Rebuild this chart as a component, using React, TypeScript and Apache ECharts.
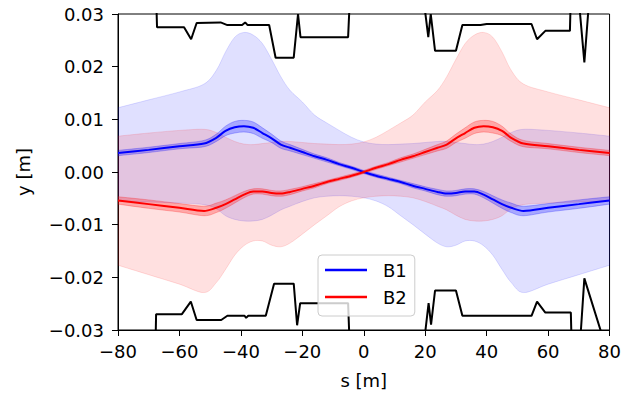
import React, { useEffect, useRef } from "react";
import * as echarts from "echarts";

// s positions (m) shared by beam lines and envelopes
const S = [-80, -70, -60, -52, -48, -45, -42, -39, -36, -33, -30, -27, -24, -20, -16, -12, -8, -4, 0, 4, 8, 12, 16, 20, 24, 27, 30, 33, 36, 39, 42, 45, 48, 52, 60, 70, 80];

// Beam 1
const B1_MEAN = [0.0036, 0.0042, 0.0049, 0.0054, 0.0065, 0.0078, 0.0085, 0.0087, 0.0084, 0.0074, 0.0064, 0.0052, 0.0046, 0.0038, 0.0030, 0.0023, 0.0015, 0.0008, 0.0000, -0.0007, -0.0013, -0.0019, -0.0026, -0.0032, -0.0038, -0.0041, -0.0040, -0.0037, -0.0037, -0.0043, -0.0052, -0.0061, -0.0068, -0.0074, -0.0068, -0.0061, -0.0054];
const B1_SPREAD = [0.0005, 0.0005, 0.0005, 0.0006, 0.0007, 0.0009, 0.0011, 0.0011, 0.0011, 0.0010, 0.0008, 0.0007, 0.0006, 0.0005, 0.0004, 0.0004, 0.0003, 0.0003, 0.0003, 0.0003, 0.0003, 0.0003, 0.0004, 0.0004, 0.0005, 0.0005, 0.0005, 0.0005, 0.0005, 0.0006, 0.0007, 0.0008, 0.0009, 0.0009, 0.0008, 0.0008, 0.0007];
const B1_ENV_HI = [0.0122, 0.0137, 0.0152, 0.0167, 0.0193, 0.0228, 0.0256, 0.0265, 0.0260, 0.0244, 0.0214, 0.0181, 0.0155, 0.0133, 0.0108, 0.0093, 0.0079, 0.0066, 0.0057, 0.0053, 0.0052, 0.0053, 0.0054, 0.0056, 0.0058, 0.0058, 0.0056, 0.0054, 0.0052, 0.0053, 0.0058, 0.0066, 0.0075, 0.0081, 0.0079, 0.0074, 0.0068];
const B1_ENV_LO = [-0.0055, -0.0057, -0.0059, -0.0062, -0.0070, -0.0083, -0.0090, -0.0093, -0.0093, -0.0090, -0.0082, -0.0072, -0.0065, -0.0056, -0.0049, -0.0046, -0.0045, -0.0046, -0.0049, -0.0055, -0.0066, -0.0083, -0.0100, -0.0118, -0.0135, -0.0142, -0.0139, -0.0131, -0.0131, -0.0140, -0.0158, -0.0185, -0.0210, -0.0229, -0.0213, -0.0195, -0.0177];

// Beam 2
const B2_MEAN = [-0.0054, -0.0061, -0.0068, -0.0074, -0.0068, -0.0061, -0.0052, -0.0043, -0.0037, -0.0037, -0.0040, -0.0041, -0.0038, -0.0032, -0.0026, -0.0019, -0.0013, -0.0007, 0.0000, 0.0008, 0.0015, 0.0023, 0.0030, 0.0038, 0.0046, 0.0052, 0.0064, 0.0074, 0.0084, 0.0087, 0.0085, 0.0078, 0.0065, 0.0054, 0.0049, 0.0042, 0.0036];
const B2_SPREAD = [0.0007, 0.0008, 0.0008, 0.0009, 0.0009, 0.0008, 0.0007, 0.0006, 0.0005, 0.0005, 0.0005, 0.0005, 0.0005, 0.0004, 0.0004, 0.0003, 0.0003, 0.0003, 0.0003, 0.0003, 0.0003, 0.0004, 0.0004, 0.0005, 0.0006, 0.0007, 0.0008, 0.0010, 0.0011, 0.0011, 0.0011, 0.0009, 0.0007, 0.0006, 0.0005, 0.0005, 0.0005];
const B2_ENV_HI = [0.0068, 0.0074, 0.0079, 0.0081, 0.0075, 0.0066, 0.0058, 0.0053, 0.0052, 0.0054, 0.0056, 0.0058, 0.0058, 0.0056, 0.0054, 0.0053, 0.0052, 0.0053, 0.0057, 0.0066, 0.0079, 0.0093, 0.0108, 0.0133, 0.0155, 0.0181, 0.0214, 0.0244, 0.0260, 0.0265, 0.0256, 0.0228, 0.0193, 0.0167, 0.0152, 0.0137, 0.0122];
const B2_ENV_LO = [-0.0177, -0.0195, -0.0213, -0.0229, -0.0210, -0.0185, -0.0158, -0.0140, -0.0131, -0.0131, -0.0139, -0.0142, -0.0135, -0.0118, -0.0100, -0.0083, -0.0066, -0.0055, -0.0049, -0.0046, -0.0045, -0.0046, -0.0049, -0.0056, -0.0065, -0.0072, -0.0082, -0.0090, -0.0093, -0.0093, -0.0090, -0.0083, -0.0070, -0.0062, -0.0059, -0.0057, -0.0055];

// Aperture (black)
const TOP_S = [-67.7, -67.3, -58.5, -56.2, -54.4, -46.6, -44.4, -39.6, -38.6, -37.8, -30.8, -28.7, -22.8, -21.4, -20.6, -5.1, -4.3, 18.8, 21.0, 21.8, 23.2, 30.0, 32.1, 38.0, 40.0, 54.6, 56.4, 59.1, 67.1, 67.5, 69.5, 71.8, 73.8];
const TOP_Y = [0.036, 0.0275, 0.0275, 0.0252, 0.0283, 0.0284, 0.0279, 0.0279, 0.0284, 0.0279, 0.0279, 0.0217, 0.0217, 0.0300, 0.0256, 0.0256, 0.036, 0.036, 0.0256, 0.0300, 0.0230, 0.0230, 0.0279, 0.0279, 0.0281, 0.0281, 0.0252, 0.0268, 0.0268, 0.036, 0.036, 0.0208, 0.036];
const BOT_S = [-67.9, -67.6, -59.2, -56.3, -54.4, -46.4, -44.4, -38.8, -38.3, -37.6, -31.9, -29.2, -22.8, -21.7, -20.7, -5.1, -4.4, 18.9, 21.1, 21.9, 23.2, 30.0, 32.1, 54.6, 56.4, 59.1, 67.4, 67.8, 70.0, 71.8, 80.0];
const BOT_Y = [-0.036, -0.0270, -0.0270, -0.0246, -0.0281, -0.0281, -0.0273, -0.0273, -0.0277, -0.0273, -0.0273, -0.0212, -0.0212, -0.0291, -0.0249, -0.0249, -0.036, -0.036, -0.0249, -0.0290, -0.0225, -0.0225, -0.0273, -0.0273, -0.0246, -0.0267, -0.0267, -0.036, -0.036, -0.0202, -0.0355];

const X_MIN = -80, X_MAX = 80, X_STEP = 20;
const Y_MIN = -0.03, Y_MAX = 0.03, Y_STEP = 0.01;

const FONT = "DejaVu Sans";
const FS = 18;

// smooth filled band shape (Catmull-Rom through the given points)
const Band = echarts.graphic.extendShape({
  type: "band",
  shape: { up: [] as number[][], down: [] as number[][] },
  buildPath(ctx: any, shape: any) {
    const drawCurve = (pts: number[][], move: boolean) => {
      if (!pts.length) return;
      if (move) ctx.moveTo(pts[0][0], pts[0][1]);
      else ctx.lineTo(pts[0][0], pts[0][1]);
      const t = 1 / 6;
      for (let i = 0; i < pts.length - 1; i++) {
        const p0 = pts[i - 1] || pts[i];
        const p1 = pts[i];
        const p2 = pts[i + 1];
        const p3 = pts[i + 2] || pts[i + 1];
        ctx.bezierCurveTo(
          p1[0] + (p2[0] - p0[0]) * t, p1[1] + (p2[1] - p0[1]) * t,
          p2[0] - (p3[0] - p1[0]) * t, p2[1] - (p3[1] - p1[1]) * t,
          p2[0], p2[1]
        );
      }
    };
    drawCurve(shape.up, true);
    drawCurve(shape.down.slice().reverse(), false);
    ctx.closePath();
  },
});
echarts.graphic.registerShape("band", Band);

const pairs = (xs: number[], ys: number[]) => xs.map((x, i) => [x, ys[i]]);

function bandSeries(name: string, lo: number[], hi: number[], fill: string, z: number) {
  return {
    type: "custom",
    name,
    coordinateSystem: "cartesian2d",
    data: [[0, 0]],
    silent: true,
    clip: true,
    z,
    renderItem: (_params: any, api: any) => {
      const up = S.map((s, i) => api.coord([s, hi[i]]));
      const down = S.map((s, i) => api.coord([s, lo[i]]));
      return {
        type: "band",
        shape: { up, down },
        style: { fill, stroke: fill, lineWidth: 1 },
      };
    },
  };
}

const yFmt = (v: number) => {
  const r = Math.round(v * 100);
  if (r === 0) return "0.00";
  return (r < 0 ? "\u2212" : "") + Math.abs(v).toFixed(2);
};
const xFmt = (v: number) => (v < 0 ? "\u2212" + Math.abs(v) : String(v));

export default function App() {
  const ref = useRef<HTMLDivElement>(null);
  useEffect(() => {
    if (!ref.current) return;
    const chart = echarts.init(ref.current, null, { renderer: "svg" });
    const lineOf = (arr: number[], d: number[], sign: number) => arr.map((v, i) => v + sign * d[i]);
    chart.setOption({
      animation: false,
      backgroundColor: "#ffffff",
      textStyle: { fontFamily: FONT },
      grid: {
        left: 118, right: 8, top: 14, bottom: 62,
        show: true, borderColor: "#000", borderWidth: 1, backgroundColor: "transparent",
      },
      xAxis: {
        type: "value", min: X_MIN, max: X_MAX, interval: X_STEP,
        name: "s [m]", nameLocation: "middle", nameGap: 50,
        nameTextStyle: { fontFamily: FONT, fontSize: FS, color: "#000", verticalAlign: "middle" },
        axisLine: { show: true, onZero: false, lineStyle: { color: "#000", width: 1 } },
        axisTick: { show: true, length: 6, lineStyle: { color: "#000", width: 1 } },
        axisLabel: { formatter: xFmt, fontFamily: FONT, fontSize: FS, color: "#000", margin: 12 },
        splitLine: { show: false },
      },
      yAxis: {
        type: "value", min: Y_MIN, max: Y_MAX, interval: Y_STEP,
        name: "y [m]", nameLocation: "middle", nameGap: 95,
        nameTextStyle: { fontFamily: FONT, fontSize: FS, color: "#000", verticalAlign: "middle" },
        axisLine: { show: true, onZero: false, lineStyle: { color: "#000", width: 1 } },
        axisTick: { show: true, length: 6, lineStyle: { color: "#000", width: 1 } },
        axisLabel: { formatter: yFmt, fontFamily: FONT, fontSize: FS, color: "#000", margin: 14 },
        splitLine: { show: false },
      },
      legend: {
        data: [
          { name: "B1", icon: "rect" },
          { name: "B2", icon: "rect" },
        ],
        orient: "vertical",
        left: 318, top: 255,
        itemWidth: 42, itemHeight: 2.5, itemGap: 9,
        padding: [6, 8, 10, 7],
        backgroundColor: "rgba(255,255,255,0.8)",
        borderColor: "#cccccc", borderWidth: 1, borderRadius: 4,
        textStyle: { fontFamily: FONT, fontSize: FS, color: "#000", padding: [0, 0, 0, 11] },
        z: 20,
      },
      series: [
        bandSeries("B1 envelope", B1_ENV_LO, B1_ENV_HI, "rgba(0,0,255,0.12)", 1),
        bandSeries("B2 envelope", B2_ENV_LO, B2_ENV_HI, "rgba(255,0,0,0.12)", 1),
        bandSeries("B1 spread", lineOf(B1_MEAN, B1_SPREAD, -1), lineOf(B1_MEAN, B1_SPREAD, 1), "rgba(0,0,255,0.25)", 2),
        bandSeries("B2 spread", lineOf(B2_MEAN, B2_SPREAD, -1), lineOf(B2_MEAN, B2_SPREAD, 1), "rgba(255,0,0,0.25)", 2),
        {
          type: "line", name: "B1", data: pairs(S, B1_MEAN), symbol: "none", smooth: 0.3,
          color: "#0000ff", lineStyle: { color: "#0000ff", width: 2 }, z: 3,
        },
        {
          type: "line", name: "B2", data: pairs(S, B2_MEAN), symbol: "none", smooth: 0.3,
          color: "#ff0000", lineStyle: { color: "#ff0000", width: 2 }, z: 3,
        },
        {
          type: "line", name: "aperture top", data: pairs(TOP_S, TOP_Y), symbol: "none",
          lineStyle: { color: "#000", width: 2 }, clip: true, z: 4, silent: true,
        },
        {
          type: "line", name: "aperture bottom", data: pairs(BOT_S, BOT_Y), symbol: "none",
          lineStyle: { color: "#000", width: 2 }, clip: true, z: 4, silent: true,
        },
      ],
    });
    return () => chart.dispose();
  }, []);
  return (
    <div
      ref={ref}
      style={{ position: "fixed", left: 0, top: 0, width: 624, height: 394, background: "#fff" }}
    />
  );
}
